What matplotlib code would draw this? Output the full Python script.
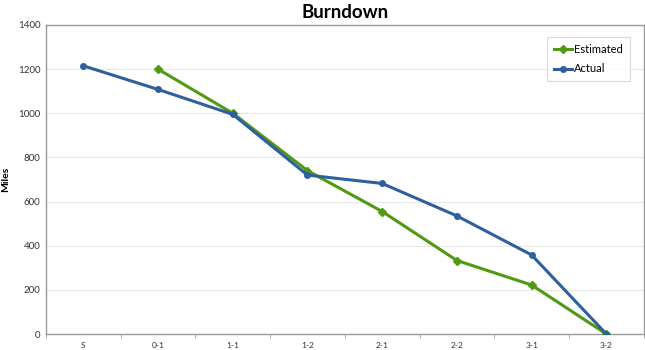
import matplotlib
matplotlib.use('Agg')
import numpy as np
from matplotlib import pyplot as plt

categories = ['S', '0-1', '1-1', '1-2', '2-1', '2-2', '3-1', '3-2']
estimated = [np.nan, 1200, 1000, 740, 555, 333, 222, 0]
actual = [1215, 1108, 995, 720, 682, 535, 358, 0]
y_ticks = [0, 200, 400, 600, 800, 1000, 1200, 1400]

GREEN = '#4f9a12'
BLUE = '#2f5f9e'
GRAY = '#9a9a9a'

plt.rcParams['font.family'] = ['Lato', 'DejaVu Sans']

fig = plt.figure(figsize=(6.45, 3.5), dpi=100)
ax = fig.add_axes([0.0713, 0.0457, 0.9267, 0.8829])

x = np.arange(len(categories))
ax.plot(x, estimated, color=GREEN, lw=2.2, marker='D', ms=4, label='Estimated', zorder=3)
ax.plot(x, actual, color=BLUE, lw=2.2, marker='o', ms=4, label='Actual', zorder=4)

ax.set_xlim(-0.5, len(categories) - 0.5)
ax.set_ylim(0, 1400)
ax.set_yticks(y_ticks)
ax.set_xticks(x)
ax.set_xticklabels(categories)
ax.set_xticks(np.arange(-0.5, len(categories)), minor=True)
ax.tick_params(axis='x', which='major', length=0, labelsize=6, colors='#333333', pad=6)
ax.tick_params(axis='x', which='minor', length=3, color=GRAY)
ax.tick_params(axis='y', length=0, labelsize=7, colors='#333333', pad=4)

ax.grid(axis='y', color='#e8e8e8', lw=0.8)
ax.set_axisbelow(True)
for s in ax.spines.values():
    s.set_color(GRAY)
    s.set_linewidth(1)

ax.set_ylabel('Miles', fontsize=7.5, fontweight='bold')
ax.yaxis.set_label_coords(-0.06, 0.5)
ax.set_title('Burndown', fontsize=13.5, fontweight='bold', pad=5)

leg = ax.legend(loc='upper right', bbox_to_anchor=(0.98, 0.967), fontsize=8,
                frameon=True, fancybox=False, handlelength=1.7, handletextpad=0.15,
                borderpad=0.6, labelspacing=0.75, borderaxespad=0.2)
leg.get_frame().set_edgecolor('#d0d0d0')
leg.get_frame().set_linewidth(0.8)

fig.savefig('out.png', dpi=100)
